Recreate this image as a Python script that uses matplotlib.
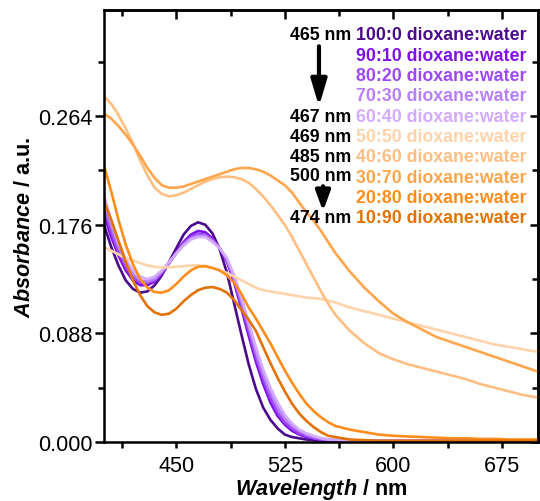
import numpy as np
import matplotlib.pyplot as plt
from matplotlib.ticker import FixedLocator

plt.rcParams['font.family'] = ['Liberation Sans', 'DejaVu Sans']
plt.rcParams['mathtext.fontset'] = 'custom'
plt.rcParams['mathtext.it'] = 'Liberation Sans:italic:bold'
plt.rcParams['mathtext.rm'] = 'Liberation Sans:bold'

# wavelength grid (nm)
wl = [400, 405, 410, 415, 420, 425, 430, 435, 440, 445, 450, 455, 460, 465,
      470, 475, 480, 485, 490, 495, 500, 505, 510, 515, 520, 525, 530, 535,
      540, 545, 550, 555, 560, 570, 580, 590, 600, 610, 620, 630, 640, 650,
      660, 670, 680, 690, 700]

tail = [0.001] * 14

a_100_0 = [0.176, 0.158, 0.143, 0.131, 0.124, 0.121, 0.122, 0.127, 0.135, 0.146,
           0.157, 0.168, 0.175, 0.178, 0.176, 0.169, 0.156, 0.137, 0.112, 0.087,
           0.063, 0.043, 0.028, 0.018, 0.011, 0.006, 0.004, 0.003, 0.002, 0.0015,
           0.001, 0.001, 0.001] + tail
a_90_10 = [0.184, 0.166, 0.151, 0.139, 0.131, 0.127, 0.127, 0.130, 0.136, 0.145,
           0.154, 0.162, 0.168, 0.171, 0.170, 0.165, 0.157, 0.146, 0.129, 0.108,
           0.086, 0.065, 0.047, 0.032, 0.021, 0.014, 0.009, 0.006, 0.004, 0.003,
           0.002, 0.0015, 0.001] + tail
a_80_20 = [0.190, 0.170, 0.154, 0.142, 0.134, 0.129, 0.129, 0.131, 0.137, 0.145,
           0.153, 0.161, 0.166, 0.169, 0.168, 0.164, 0.157, 0.147, 0.131, 0.111,
           0.090, 0.069, 0.051, 0.036, 0.024, 0.016, 0.011, 0.007, 0.005, 0.003,
           0.002, 0.0015, 0.001] + tail
a_70_30 = [0.195, 0.175, 0.158, 0.145, 0.136, 0.131, 0.130, 0.132, 0.138, 0.145,
           0.153, 0.160, 0.165, 0.167, 0.167, 0.163, 0.157, 0.148, 0.133, 0.114,
           0.094, 0.073, 0.055, 0.040, 0.028, 0.019, 0.013, 0.009, 0.006, 0.004,
           0.003, 0.002, 0.0015] + tail
a_60_40 = [0.200, 0.179, 0.161, 0.148, 0.139, 0.134, 0.132, 0.134, 0.139, 0.146,
           0.153, 0.159, 0.164, 0.166, 0.166, 0.162, 0.157, 0.149, 0.135, 0.117,
           0.097, 0.077, 0.059, 0.044, 0.032, 0.022, 0.015, 0.010, 0.007, 0.005,
           0.003, 0.002, 0.002] + tail
a_50_50 = [0.158, 0.155, 0.152, 0.149, 0.147, 0.145, 0.143, 0.142, 0.1415, 0.1415,
           0.142, 0.1425, 0.143, 0.143, 0.1425, 0.141, 0.139, 0.137, 0.134, 0.131,
           0.128, 0.125, 0.123, 0.122, 0.121, 0.120, 0.119, 0.118, 0.117, 0.1165,
           0.116, 0.1145, 0.113, 0.109, 0.106, 0.103, 0.100, 0.097, 0.094, 0.091,
           0.088, 0.085, 0.082, 0.079, 0.077, 0.075, 0.073]
a_40_60 = [0.280, 0.274, 0.265, 0.254, 0.242, 0.228, 0.216, 0.206, 0.201, 0.199,
           0.200, 0.202, 0.205, 0.208, 0.211, 0.213, 0.2145, 0.215, 0.2145, 0.213,
           0.210, 0.205, 0.199, 0.192, 0.184, 0.176, 0.166, 0.155, 0.144, 0.133,
           0.122, 0.112, 0.103, 0.090, 0.080, 0.072, 0.067, 0.063, 0.060, 0.057,
           0.054, 0.051, 0.047, 0.044, 0.041, 0.038, 0.036]
a_30_70 = [0.266, 0.262, 0.256, 0.249, 0.241, 0.232, 0.222, 0.214, 0.208, 0.206,
           0.206, 0.207, 0.209, 0.211, 0.213, 0.215, 0.217, 0.219, 0.221, 0.222,
           0.222, 0.221, 0.219, 0.216, 0.212, 0.208, 0.202, 0.194, 0.186, 0.179,
           0.171, 0.162, 0.153, 0.138, 0.125, 0.114, 0.104, 0.097, 0.091, 0.085,
           0.081, 0.077, 0.073, 0.069, 0.065, 0.061, 0.057]
a_20_80 = [0.224, 0.203, 0.180, 0.160, 0.144, 0.132, 0.125, 0.1215, 0.121, 0.123,
           0.128, 0.134, 0.139, 0.142, 0.1425, 0.141, 0.139, 0.135, 0.129, 0.120,
           0.109, 0.100, 0.090, 0.080, 0.069, 0.058, 0.048, 0.039, 0.031, 0.025,
           0.020, 0.016, 0.013, 0.010, 0.008, 0.006, 0.005, 0.0045, 0.004, 0.0035,
           0.003, 0.003, 0.0025, 0.0025, 0.002, 0.002, 0.002]
a_10_90 = [0.195, 0.180, 0.163, 0.146, 0.131, 0.119, 0.110, 0.105, 0.103, 0.104,
           0.108, 0.114, 0.119, 0.123, 0.125, 0.1255, 0.124, 0.121, 0.115, 0.107,
           0.099, 0.090, 0.077, 0.064, 0.052, 0.041, 0.031, 0.023, 0.017, 0.012,
           0.008, 0.005, 0.004, 0.002, 0.0015, 0.001, 0.001, 0.001, 0.001, 0.001,
           0.001, 0.001, 0.001, 0.001, 0.001, 0.001, 0.001]

labels = ['100:0', '90:10', '80:20', '70:30', '60:40',
          '50:50', '40:60', '30:70', '20:80', '10:90']
peaks = ['465 nm', '', '', '', '467 nm', '469 nm', '485 nm', '500 nm', '', '474 nm']
colors = ['#4b0a8c', '#8010ea', '#9d48f7', '#b77ffb', '#d3abff',
          '#ffd3aa', '#ffbe82', '#ffa64c', '#ff8d1c', '#e27204']
spectra = [a_100_0, a_90_10, a_80_20, a_70_30, a_60_40,
           a_50_50, a_40_60, a_30_70, a_20_80, a_10_90]

fig = plt.figure(figsize=(5.4, 5.02), dpi=100)
ax = fig.add_axes([104 / 540, 59 / 502, 434 / 540, 432 / 502])

for y, c in zip(spectra, colors):
    ax.plot(wl, y, color=c, lw=1.9)

ax.set_xlim(400, 700)
ax.set_ylim(0, 0.35)

xmaj = [450, 525, 600, 675]
xmin = [412.5, 487.5, 562.5, 637.5]
ymaj = [0.0, 0.088, 0.176, 0.264]
ymin = [0.044, 0.132, 0.22, 0.308]

ax.xaxis.set_major_locator(FixedLocator(xmaj))
ax.xaxis.set_minor_locator(FixedLocator(xmin))
ax.yaxis.set_major_locator(FixedLocator(ymaj))
ax.yaxis.set_minor_locator(FixedLocator(ymin))
ax.set_yticklabels(['%.3f' % v for v in ymaj])

for s in ax.spines.values():
    s.set_linewidth(1.8)

ax.tick_params(axis='x', which='major', direction='out', length=4.5, width=1.8,
               labelsize=15.6, pad=5)
ax.tick_params(axis='x', which='minor', direction='out', length=4, width=1.8)
ax.tick_params(axis='y', which='major', direction='out', length=6.5, width=1.8,
               labelsize=15.6, pad=2)
ax.tick_params(axis='y', which='minor', direction='out', length=4.3, width=1.8)

top = ax.secondary_xaxis('top')
top.xaxis.set_major_locator(FixedLocator(xmaj))
top.xaxis.set_minor_locator(FixedLocator(xmin))
top.tick_params(which='major', direction='in', length=6.5, width=1.8, labeltop=False)
top.tick_params(which='minor', direction='in', length=4, width=1.8)
top.spines['top'].set_linewidth(1.8)

right = ax.secondary_yaxis('right')
right.yaxis.set_major_locator(FixedLocator(ymaj))
right.yaxis.set_minor_locator(FixedLocator(ymin))
right.tick_params(which='major', direction='in', length=5.5, width=1.8, labelright=False)
right.tick_params(which='minor', direction='in', length=4, width=1.8)
right.spines['right'].set_linewidth(1.8)

ax.set_xlabel(r'$\mathit{Wavelength}$ / nm', fontsize=15.6, fontweight='bold', labelpad=0)
ax.set_ylabel(r'$\mathit{Absorbance}$ / a.u.', fontsize=15.6, fontweight='bold', labelpad=2)

# legend-like labels
y0 = 0.330
dy = 0.0165
for i, (lab, pk, c) in enumerate(zip(labels, peaks, colors)):
    yy = y0 - i * dy
    ax.text(574.2, yy, lab + ' dioxane:water', color=c, fontsize=12.8,
            fontweight='bold', ha='left', va='center')
    if pk:
        dy_pk = 0.0018 if pk == '500 nm' else 0
        ax.text(571.0, yy + dy_pk, pk, color='k', fontsize=12.8,
                fontweight='bold', ha='right', va='center')

ax.annotate('', xy=(548.6, 0.272), xytext=(548.6, 0.3206),
            arrowprops=dict(arrowstyle='-|>,head_length=0.8,head_width=0.24',
                            mutation_scale=20, lw=3, color='k',
                            shrinkA=0, shrinkB=0))
ax.annotate('', xy=(551.4, 0.187), xytext=(551.4, 0.2072),
            arrowprops=dict(arrowstyle='-|>,head_length=0.6,head_width=0.22',
                            mutation_scale=20, lw=3, color='k',
                            shrinkA=0, shrinkB=0))

fig.savefig('out.png', dpi=100)
